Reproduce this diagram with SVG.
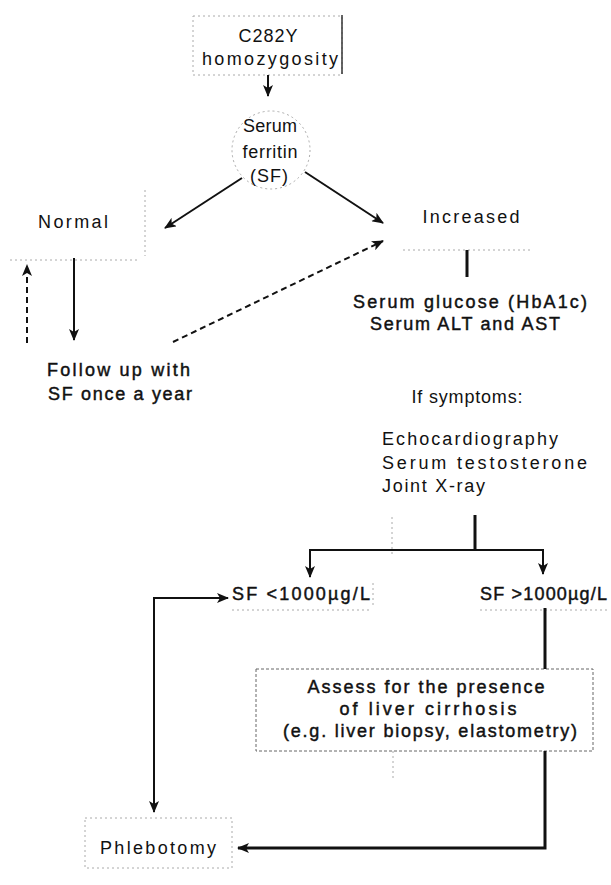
<svg xmlns="http://www.w3.org/2000/svg" width="611" height="885" viewBox="0 0 611 885">
<style>
text{font-family:"Liberation Sans",Arial,sans-serif;font-size:18px;fill:#111}
.m{text-anchor:middle}
.b{stroke:#111;stroke-width:0.45}
.ln{stroke:#111;stroke-width:2;fill:none}
.thick{stroke:#111;stroke-width:3;fill:none}
.dash{stroke:#111;stroke-width:2;fill:none;stroke-dasharray:6 4}
.faint{stroke:#aaa;stroke-width:1;fill:none;stroke-dasharray:2 3}
.box{stroke:#666;stroke-width:1;fill:none;stroke-dasharray:3 2}
</style>
<defs>
<marker id="ah" markerWidth="12" markerHeight="10" refX="11" refY="5" orient="auto-start-reverse" markerUnits="userSpaceOnUse">
<path d="M0,0 L12,5 L0,10 L3,5 Z" fill="#111"/>
</marker>
</defs>
<rect width="611" height="885" fill="#fff"/>

<g id="c282y">
<rect x="193" y="16" width="149" height="59" class="faint"/>
<line x1="342" y1="15" x2="342" y2="74" stroke="#333" stroke-width="1.5"/>
<text x="268" y="42" class="m" textLength="59" lengthAdjust="spacing">C282Y</text>
<text x="270" y="65" class="m" textLength="136" lengthAdjust="spacing">homozygosity</text>
</g>

<g id="ferritin">
<circle cx="271" cy="150" r="39" class="faint"/>
<text x="270" y="132" class="m" textLength="54" lengthAdjust="spacing">Serum</text>
<text x="270" y="158" class="m" textLength="55" lengthAdjust="spacing">ferritin</text>
<text x="269" y="182" class="m" textLength="38" lengthAdjust="spacing">(SF)</text>
</g>

<g id="normal">
<path d="M145,190 V256 M10,260 H140" class="faint"/>
<text x="73" y="228" class="m" textLength="70" lengthAdjust="spacing">Normal</text>
</g>

<g id="increased">
<path d="M403,250 H530" class="faint"/>
<text x="471" y="223" class="m" textLength="97" lengthAdjust="spacing">Increased</text>
</g>

<g id="followup">
<text x="47" y="376" class="b" textLength="143" lengthAdjust="spacing">Follow up with</text>
<text x="48" y="400" class="b" textLength="144" lengthAdjust="spacing">SF once a year</text>
</g>

<g id="tests">
<text x="470" y="308" class="m b" textLength="234" lengthAdjust="spacing">Serum glucose (HbA1c)</text>
<text x="465" y="330" class="m b" textLength="190" lengthAdjust="spacing">Serum ALT and AST</text>
</g>

<g id="symptoms">
<text x="467" y="403" class="m" textLength="111" lengthAdjust="spacing">If symptoms:</text>
</g>

<g id="extra-tests">
<text x="382" y="445" textLength="176" lengthAdjust="spacing">Echocardiography</text>
<text x="382" y="469" textLength="205" lengthAdjust="spacing">Serum testosterone</text>
<text x="382" y="492" textLength="103" lengthAdjust="spacing">Joint X-ray</text>
<path d="M392,517 V557" class="faint"/>
</g>

<g id="sf-low">
<path d="M232,610 H372 M373,583 V606" class="faint"/>
<text x="232" y="600" class="b" textLength="138" lengthAdjust="spacing">SF &lt;1000µg/L</text>
</g>

<g id="sf-high">
<path d="M480,610 H607" class="faint"/>
<text x="480" y="600" class="b" textLength="127" lengthAdjust="spacing">SF &gt;1000µg/L</text>
</g>

<g id="assess">
<rect x="256" y="669" width="337" height="82" class="box"/>
<path d="M393,751 V778" class="faint"/>
<text x="426" y="693" class="m b" textLength="237" lengthAdjust="spacing">Assess for the presence</text>
<text x="428" y="715" class="m b" textLength="177" lengthAdjust="spacing">of liver cirrhosis</text>
<text x="430" y="737" class="m b" textLength="294" lengthAdjust="spacing">(e.g. liver biopsy, elastometry)</text>
</g>

<g id="phlebotomy">
<rect x="85" y="818" width="147" height="50" class="faint"/>
<text x="158" y="854" class="m" textLength="116" lengthAdjust="spacing">Phlebotomy</text>
</g>

<g id="connectors">
<line x1="268" y1="75" x2="268" y2="96" class="ln" marker-end="url(#ah)"/>
<line x1="242" y1="178" x2="165" y2="228" class="ln" marker-end="url(#ah)"/>
<line x1="305" y1="172" x2="383" y2="223" class="ln" marker-end="url(#ah)"/>
<line x1="74" y1="258" x2="74" y2="340" class="ln" marker-end="url(#ah)"/>
<line x1="27" y1="343" x2="27" y2="265" class="dash" marker-end="url(#ah)"/>
<line x1="173" y1="342" x2="383" y2="241" class="dash" marker-end="url(#ah)"/>
<line x1="467" y1="250" x2="467" y2="277" class="thick"/>
<line x1="475" y1="515" x2="475" y2="550" class="thick"/>
<path d="M310,577 V550 H543 V574" class="ln" marker-start="url(#ah)" marker-end="url(#ah)"/>
<path d="M228,598 H154 V812" class="ln" marker-start="url(#ah)" marker-end="url(#ah)"/>
<line x1="545" y1="608" x2="545" y2="669" class="thick"/>
<path d="M545,751 V848 H238" class="thick" marker-end="url(#ah)"/>
</g>
</svg>
